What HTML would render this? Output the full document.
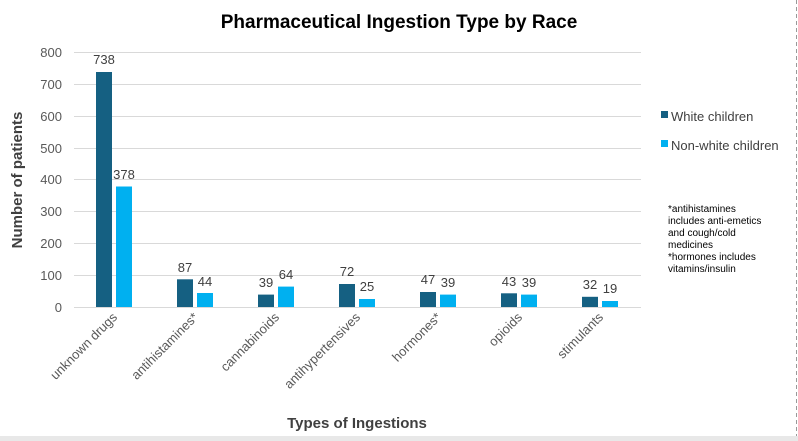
<!DOCTYPE html>
<html><head><style>body{margin:0;background:#fff}svg{display:block}</style></head><body>
<svg width="798" height="441" xmlns="http://www.w3.org/2000/svg" font-family="Liberation Sans, sans-serif">
<rect width="798" height="441" fill="#fff"/>
<rect x="0" y="436" width="798" height="5" fill="#e8e8e8"/>
<line x1="796.5" y1="0" x2="796.5" y2="436" stroke="#999" stroke-dasharray="4,3"/>
<text x="399" y="28" text-anchor="middle" font-size="19" font-weight="bold" fill="#000">Pharmaceutical Ingestion Type by Race</text>
<g stroke="#d9d9d9" stroke-width="1">
<line x1="74" x2="641" y1="52.5" y2="52.5"/><line x1="74" x2="641" y1="84.5" y2="84.5"/>
<line x1="74" x2="641" y1="116.5" y2="116.5"/><line x1="74" x2="641" y1="148.5" y2="148.5"/>
<line x1="74" x2="641" y1="179.5" y2="179.5"/><line x1="74" x2="641" y1="211.5" y2="211.5"/>
<line x1="74" x2="641" y1="243.5" y2="243.5"/><line x1="74" x2="641" y1="275.5" y2="275.5"/>
<line x1="74" x2="641" y1="307.5" y2="307.5"/></g>
<g font-size="13" fill="#595959" text-anchor="end">
<text x="62" y="57">800</text><text x="62" y="89">700</text><text x="62" y="121">600</text><text x="62" y="153">500</text><text x="62" y="184">400</text><text x="62" y="216">300</text><text x="62" y="248">200</text><text x="62" y="280">100</text><text x="62" y="312">0</text></g>
<text transform="translate(22,180) rotate(-90)" text-anchor="middle" font-size="15" font-weight="bold" fill="#404040">Number of patients</text>
<g font-size="13" fill="#404040" text-anchor="middle">
<rect x="96" y="72" width="16" height="235" fill="#156082"/><rect x="116" y="186.5" width="16" height="120.5" fill="#00b0f0"/>
<text x="104" y="64">738</text><text x="124" y="179">378</text>
<rect x="177" y="279.3" width="16" height="27.7" fill="#156082"/><rect x="197" y="293" width="16" height="14" fill="#00b0f0"/>
<text x="185" y="272">87</text><text x="205" y="286">44</text>
<rect x="258" y="294.6" width="16" height="12.4" fill="#156082"/><rect x="278" y="286.6" width="16" height="20.4" fill="#00b0f0"/>
<text x="266" y="287">39</text><text x="286" y="279">64</text>
<rect x="339" y="284" width="16" height="23" fill="#156082"/><rect x="359" y="299" width="16" height="8" fill="#00b0f0"/>
<text x="347" y="276">72</text><text x="367" y="291">25</text>
<rect x="420" y="292" width="16" height="15" fill="#156082"/><rect x="440" y="294.6" width="16" height="12.4" fill="#00b0f0"/>
<text x="428" y="284">47</text><text x="448" y="287">39</text>
<rect x="501" y="293.3" width="16" height="13.7" fill="#156082"/><rect x="521" y="294.6" width="16" height="12.4" fill="#00b0f0"/>
<text x="509" y="286">43</text><text x="529" y="287">39</text>
<rect x="582" y="296.8" width="16" height="10.2" fill="#156082"/><rect x="602" y="301" width="16" height="6" fill="#00b0f0"/>
<text x="590" y="289">32</text><text x="610" y="293">19</text>
</g>
<g font-size="13" fill="#595959" text-anchor="end">
<text transform="translate(118,318) rotate(-45)">unknown drugs</text>
<text transform="translate(199,318) rotate(-45)">antihistamines*</text>
<text transform="translate(280,318) rotate(-45)">cannabinoids</text>
<text transform="translate(361,318) rotate(-45)">antihypertensives</text>
<text transform="translate(442,318) rotate(-45)">hormones*</text>
<text transform="translate(523,318) rotate(-45)">opioids</text>
<text transform="translate(604,318) rotate(-45)">stimulants</text>
</g>
<text x="357" y="428" text-anchor="middle" font-size="15" font-weight="bold" fill="#404040">Types of Ingestions</text>
<rect x="661" y="111" width="7" height="7" fill="#156082"/>
<text x="671" y="121" font-size="13" fill="#404040">White children</text>
<rect x="661" y="140" width="7" height="7" fill="#00b0f0"/>
<text x="671" y="150" font-size="13" fill="#404040">Non-white children</text>
<g font-size="10" fill="#000">
<text x="668" y="212">*antihistamines</text><text x="668" y="224">includes anti-emetics</text>
<text x="668" y="236">and cough/cold</text><text x="668" y="248">medicines</text>
<text x="668" y="260">*hormones includes</text><text x="668" y="272">vitamins/insulin</text></g>
</svg>
</body></html>
